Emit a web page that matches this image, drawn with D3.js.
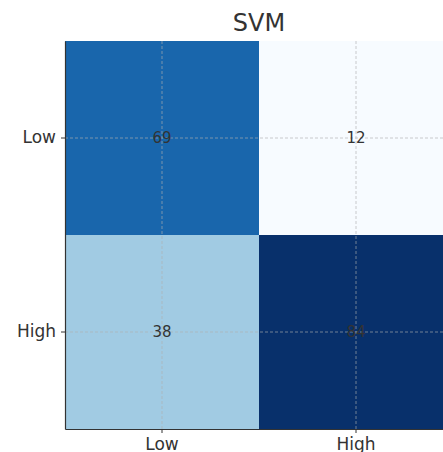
<!DOCTYPE html>
<html>
<head>
<meta charset="utf-8">
<script src="https://cdn.jsdelivr.net/npm/d3@7"></script>
<style>
  body { margin: 0; background: #fff; }
  svg { display: block; font-family: "DejaVu Sans", sans-serif; }
</style>
</head>
<body>
<svg width="443" height="452"></svg>
<script>
var rowLabels = ["Low", "High"],
    colLabels = ["Low", "High"],
    counts = [[69, 12], [38, 84]],
    title = "SVM";

var svg = d3.select("svg"),
    margin = {top: 41, left: 65},
    size = 388,
    g = svg.append("g").attr("transform", "translate(" + margin.left + "," + margin.top + ")");

var x = d3.scaleBand().domain(colLabels).range([0, size]);
var y = d3.scaleBand().domain(rowLabels).range([0, size]);

var flat = [];
counts.forEach(function(row, i) {
  row.forEach(function(v, j) {
    flat.push({row: rowLabels[i], col: colLabels[j], value: v});
  });
});

var color = d3.scaleSequential(d3.interpolateBlues)
  .domain(d3.extent(flat, function(d) { return d.value; }));

g.selectAll("rect.cell")
  .data(flat)
  .enter().append("rect")
  .attr("class", "cell")
  .attr("x", function(d) { return x(d.col); })
  .attr("y", function(d) { return y(d.row); })
  .attr("width", x.bandwidth())
  .attr("height", y.bandwidth())
  .attr("fill", function(d) { return color(d.value); });

// dashed grid over the cells
var grid = g.append("g")
  .attr("stroke", "#b0b0b0")
  .attr("stroke-width", 0.8)
  .attr("stroke-dasharray", "3,2")
  .attr("opacity", 0.8);

grid.selectAll("line.v")
  .data(colLabels)
  .enter().append("line")
  .attr("x1", function(d) { return x(d) + x.bandwidth() / 2; })
  .attr("x2", function(d) { return x(d) + x.bandwidth() / 2; })
  .attr("y1", 0)
  .attr("y2", size);

grid.selectAll("line.h")
  .data(rowLabels)
  .enter().append("line")
  .attr("y1", function(d) { return y(d) + y.bandwidth() / 2; })
  .attr("y2", function(d) { return y(d) + y.bandwidth() / 2; })
  .attr("x1", 0)
  .attr("x2", size);

g.selectAll("text.val")
  .data(flat)
  .enter().append("text")
  .attr("class", "val")
  .attr("x", function(d) { return x(d.col) + x.bandwidth() / 2; })
  .attr("y", function(d) { return y(d.row) + y.bandwidth() / 2; })
  .attr("dy", "0.35em")
  .attr("text-anchor", "middle")
  .attr("font-size", 15)
  .attr("fill", "#333")
  .text(function(d) { return d.value; });

var xAxis = g.append("g")
  .attr("transform", "translate(0," + size + ")")
  .call(d3.axisBottom(x).tickSize(4).tickSizeOuter(0).tickPadding(5));

var yAxis = g.append("g")
  .call(d3.axisLeft(y).tickSize(4).tickSizeOuter(0).tickPadding(5));

[xAxis, yAxis].forEach(function(a) {
  a.selectAll("text").attr("font-size", 17).attr("fill", "#333").attr("font-family", "DejaVu Sans");
  a.selectAll("line").attr("stroke", "#333");
  a.select(".domain").attr("stroke", "#333").attr("stroke-width", 1.2);
});

svg.append("text")
  .attr("x", margin.left + size / 2)
  .attr("y", 31)
  .attr("text-anchor", "middle")
  .attr("font-size", 24)
  .attr("fill", "#333")
  .text(title);
</script>
</body>
</html>
